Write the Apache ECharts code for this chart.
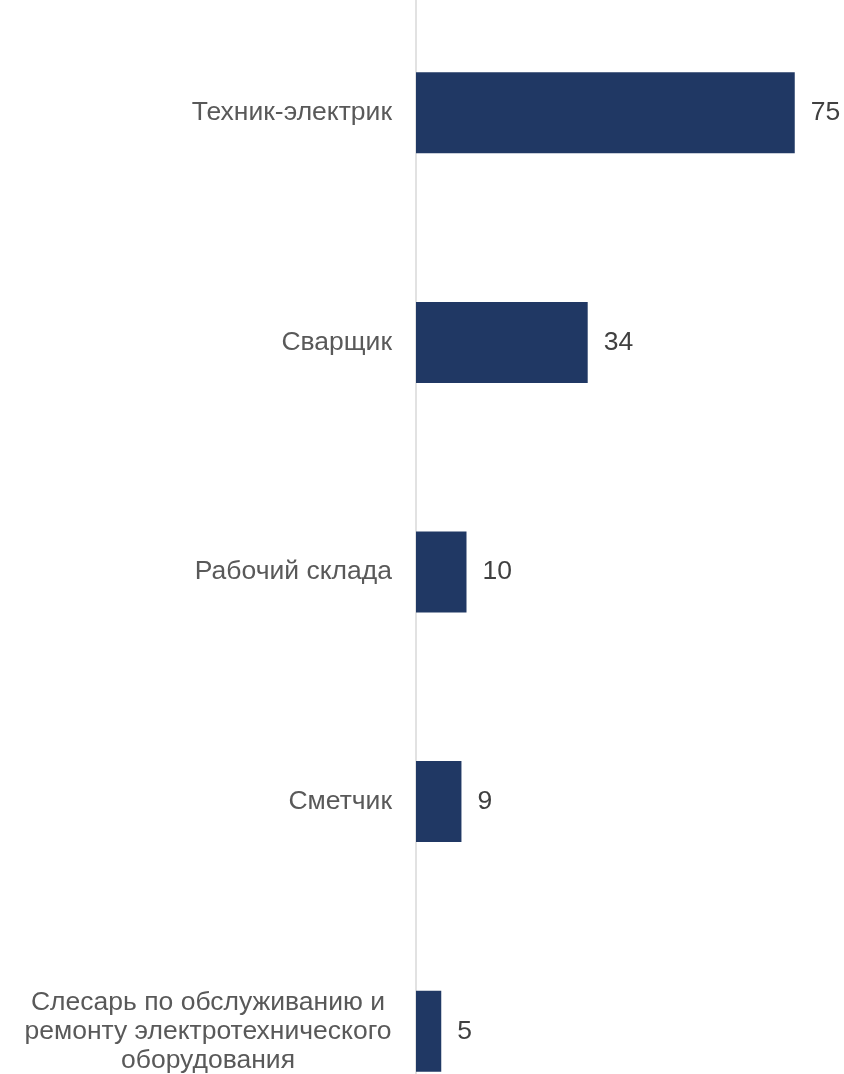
<!DOCTYPE html>
<html>
<head>
<meta charset="utf-8">
<script src="https://cdn.jsdelivr.net/npm/echarts@6/dist/echarts.min.js"></script>
<style>
html,body{margin:0;padding:0;background:#fff;overflow:hidden;width:844px;height:1074px;}
#chart{position:absolute;left:0;top:-2px;width:844px;height:1148px;}
</style>
</head>
<body>
<div id="chart"></div>
<script>
const categories = [
  'Техник-электрик',
  'Сварщик',
  'Рабочий склада',
  'Сметчик',
  'Слесарь по обслуживанию и\nремонту электротехнического\nоборудования'
];
const values = [75, 34, 10, 9, 5];

const FONT = 'Liberation Sans, Arial, sans-serif';
const chart = echarts.init(document.getElementById('chart'));
chart.setOption({
  animation: false,
  backgroundColor: '#ffffff',
  textStyle: { fontFamily: FONT },
  grid: { left: 416, right: 24, top: 0, bottom: 0, containLabel: false },
  xAxis: {
    type: 'value', min: 0, max: 80, show: false
  },
  yAxis: {
    type: 'category',
    data: categories,
    inverse: true,
    axisLine: { show: true, lineStyle: { color: '#d9d9d9', width: 1.5 } },
    axisTick: { show: false },
    splitLine: { show: false },
    axisLabel: {
      color: '#595959',
      fontSize: 26.5,
      margin: 24,
      lineHeight: 29,
      fontFamily: FONT,
      formatter: function (v) {
        if (v.indexOf('\n') >= 0) {
          return v.split('\n').map(function (l) { return '{c|' + l + '}'; }).join('\n');
        }
        return v;
      },
      rich: {
        c: { width: 368, align: 'center', fontSize: 26.5, lineHeight: 29, color: '#595959', fontFamily: FONT }
      }
    }
  },
  series: [{
    type: 'bar',
    data: values,
    barWidth: 81,
    itemStyle: { color: '#203864' },
    label: {
      show: true,
      position: 'right',
      distance: 16,
      color: '#404040',
      fontSize: 26.5,
      fontFamily: FONT
    }
  }]
});
</script>
</body>
</html>
